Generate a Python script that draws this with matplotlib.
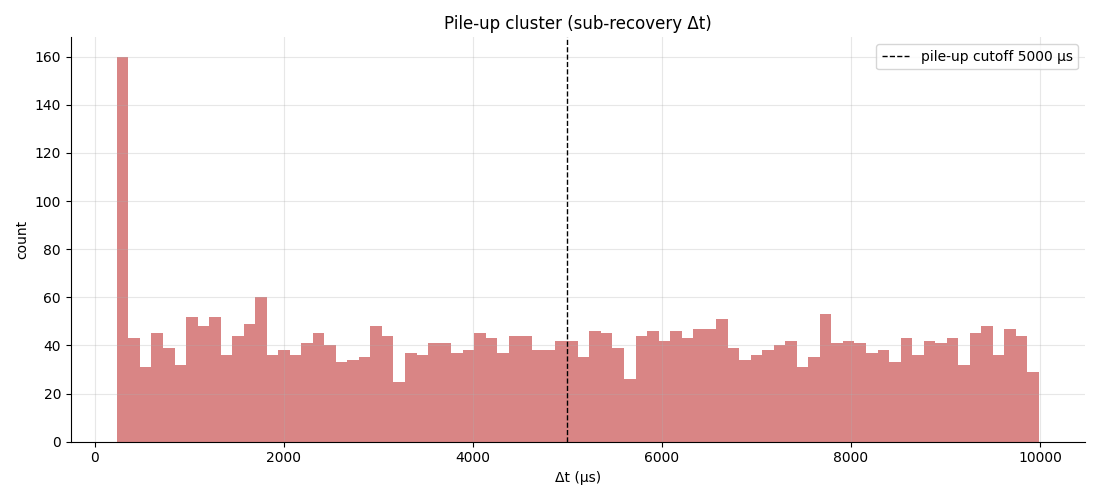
import matplotlib
matplotlib.use('Agg')
import matplotlib.pyplot as plt
import numpy as np


# histogram counts per bin (80 bins)
counts = [160, 43, 31, 45, 39, 32, 52, 48, 52, 36,
          44, 49, 60, 36, 38, 36, 41, 45, 40, 33,
          34, 35, 48, 44, 25, 37, 36, 41, 41, 37,
          38, 45, 43, 37, 44, 44, 38, 38, 42, 42,
          35, 46, 45, 39, 26, 44, 46, 42, 46, 43,
          47, 47, 51, 39, 34, 36, 38, 40, 42, 31,
          35, 53, 41, 42, 41, 37, 38, 33, 43, 36,
          42, 41, 43, 32, 45, 48, 36, 47, 44, 29]
dt_min = 233
dt_max = 9989
cutoff_us = 5000

edges = np.linspace(dt_min, dt_max, len(counts) + 1)
centers = 0.5 * (edges[:-1] + edges[1:])

fig, ax = plt.subplots(figsize=(11, 5), dpi=100)
ax.hist(centers, bins=edges, weights=counts, color='indianred', alpha=0.75)
ax.axvline(cutoff_us, color='black', linestyle='--', linewidth=1,
           label=f'pile-up cutoff {cutoff_us} µs')

ax.set_title('Pile-up cluster (sub-recovery Δt)')
ax.set_xlabel('Δt (µs)')
ax.set_ylabel('count')
ax.grid(True, alpha=0.3)
ax.spines['top'].set_visible(False)
ax.spines['right'].set_visible(False)
ax.legend(loc='upper right')

plt.tight_layout()
plt.savefig('out.png')
